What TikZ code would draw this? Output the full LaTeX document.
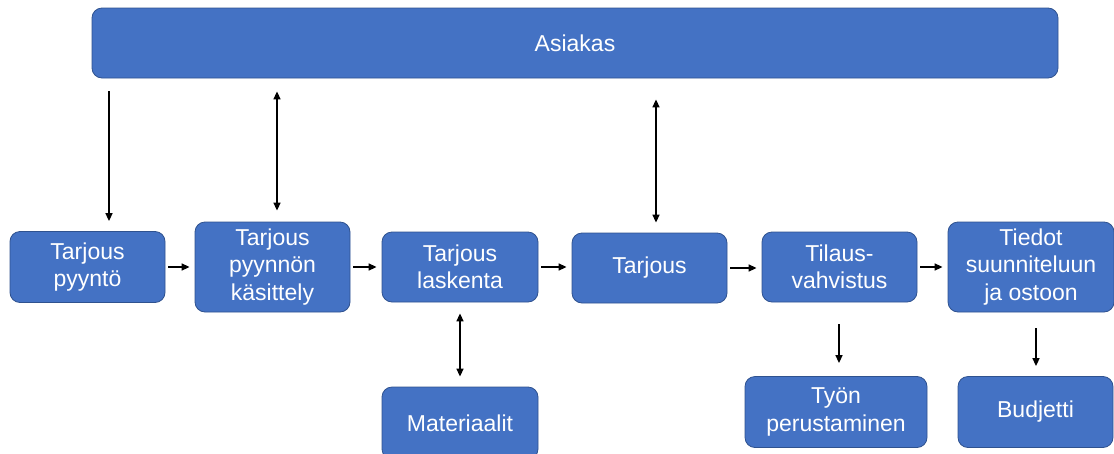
\documentclass[tikz,border=0pt]{standalone}
\usepackage{fontspec}
\setmainfont{Liberation Sans}
\usepackage{xcolor}
\usetikzlibrary{arrows.meta}
\definecolor{laatikkosin}{HTML}{4472C4}
\definecolor{reunasin}{HTML}{2F528F}

\begin{document}
\begin{tikzpicture}[x=1pt,y=-1pt,line width=1.5pt,
   >={Triangle[length=8pt,width=7pt]},
   laatikko/.style={rectangle,rounded corners=10pt,fill=laatikkosin,draw=reunasin,line width=0.8pt,
     text=white,align=center,inner sep=0pt,font=\fontsize{23}{27.5}\selectfont},
   vali/.style={shorten <=3pt,shorten >=5pt}]

  \useasboundingbox (0,0) rectangle (1114,453);

  \node[laatikko,minimum width=966pt,minimum height=70pt] (asiakas) at (575,43) {Asiakas};

  \node[laatikko,minimum width=155pt,minimum height=71pt] (pyynto) at (87.5,267) {Tarjous\\pyyntö};
  \node[laatikko,minimum width=155pt,minimum height=90pt] (kasittely) at (272.5,267) {Tarjous\\pyynnön\\käsittely};
  \node[laatikko,minimum width=156pt,minimum height=70pt] (laskenta) at (460,267) {Tarjous\\laskenta};
  \node[laatikko,minimum width=155pt,minimum height=70pt] (tarjous) at (649.5,268) {Tarjous};
  \node[laatikko,minimum width=155pt,minimum height=70pt] (vahvistus) at (839.5,267) {Tilaus-\\vahvistus};
  \node[laatikko,minimum width=166pt,minimum height=90pt] (tiedot) at (1031,267) {Tiedot\\suunniteluun\\ja ostoon};

  \node[laatikko,minimum width=156pt,minimum height=72pt] (materiaalit) at (460,423) {Materiaalit};
  \node[laatikko,minimum width=182pt,minimum height=71pt] (tyon) at (836,412) {Työn\\perustaminen};
  \node[laatikko,minimum width=155pt,minimum height=71pt] (budjetti) at (1035.5,412) {Budjetti};

  % pystynuolten x-paikat
  \coordinate (x1) at (109,0);
  \coordinate (x2) at (277,0);
  \coordinate (x3) at (656,0);
  \coordinate (x4) at (839,0);
  \coordinate (x5) at (1036,0);

  \draw[->,shorten <=13pt,shorten >=10pt] (asiakas.south -| x1) -- (pyynto.north -| x1);
  \draw[<->,shorten <=11pt,shorten >=13pt] (kasittely.north -| x2) -- (asiakas.south -| x2);
  \draw[<->,shorten <=10pt,shorten >=21pt] (tarjous.north -| x3) -- (asiakas.south -| x3);

  \foreach \from/\to in {pyynto/kasittely,kasittely/laskenta,laskenta/tarjous,tarjous/vahvistus,vahvistus/tiedot}
    \draw[->,vali] (\from.east) -- (\from.east -| \to.west);

  \draw[<->,shorten <=11pt,shorten >=10pt] (laskenta) -- (materiaalit);
  \draw[->,shorten <=22pt,shorten >=13pt] (vahvistus.south -| x4) -- (tyon.north -| x4);
  \draw[->,shorten <=16pt,shorten >=10pt] (tiedot.south -| x5) -- (budjetti.north -| x5);
\end{tikzpicture}
\end{document}
